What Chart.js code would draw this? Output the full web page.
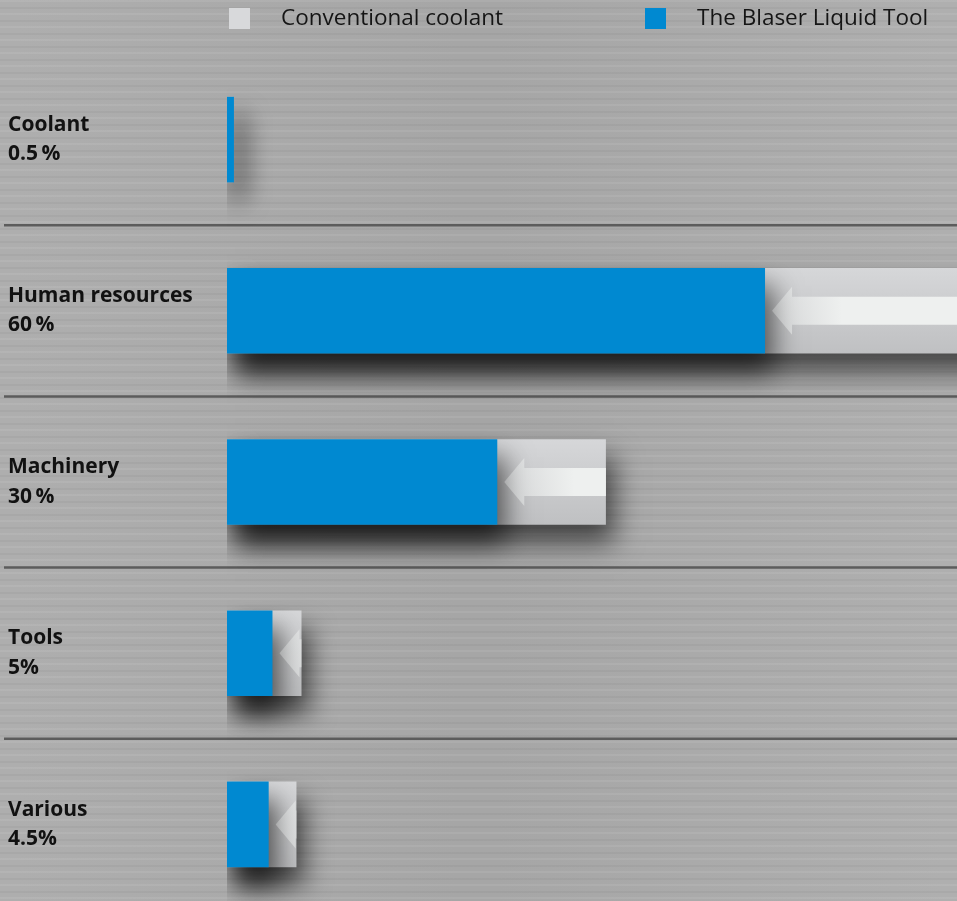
<!DOCTYPE html>
<html>
<head>
<meta charset="utf-8">
<script src="https://cdn.jsdelivr.net/npm/chart.js@4.4.1/dist/chart.umd.min.js"></script>
<style>
  html, body { margin: 0; padding: 0; overflow: hidden; }
  body {
    width: 957px; height: 901px;
    background-color: #ababab;
    background-image:
      repeating-linear-gradient(180deg, rgba(255,255,255,0.07) 0 2px, transparent 2px 7px, rgba(0,0,0,0.035) 7px 9px, transparent 9px 13px),
      linear-gradient(90deg, rgba(255,255,255,0.04), rgba(0,0,0,0.03), rgba(255,255,255,0.05));
  }
  canvas { display: block; }
</style>
</head>
<body>
<canvas id="costChart" width="957" height="912"></canvas>
<script>
// cost shares per category
var categories = ['Coolant', 'Human resources', 'Machinery', 'Tools', 'Various'];
var shares = ['0.5\u2009%', '60\u2009%', '30\u2009%', '5%', '4.5%'];
var seriesNames = ['Conventional coolant', 'The Blaser Liquid Tool'];
var conventional = [0.5, 60, 30, 5.9, 5.5];
var blaser = [0.55, 42.6, 21.4, 3.6, 3.3];
var xMax = 57.8;

var legendColors = ['#d8d9db', '#0089d1'];

// grey bars get a soft top-to-bottom shading
function greyFill(ctx) {
  var chart = ctx.chart;
  if (!chart.chartArea || ctx.dataIndex === undefined) return legendColors[0];
  var y = chart.scales.y.getPixelForValue(ctx.dataIndex);
  var g = chart.ctx.createLinearGradient(0, y - 43, 0, y + 43);
  g.addColorStop(0, '#d6d7d9');
  g.addColorStop(1, '#bfc0c2');
  return g;
}

var separatorPlugin = {
  id: 'separators',
  beforeDatasetsDraw: function (chart) {
    var y = chart.scales.y, c = chart.ctx;
    c.save();
    c.strokeStyle = '#5c5c5c';
    c.lineWidth = 2.5;
    for (var i = 0; i < categories.length - 1; i++) {
      var py = (y.getPixelForValue(i) + y.getPixelForValue(i + 1)) / 2;
      c.beginPath();
      c.moveTo(4, py);
      c.lineTo(chart.width, py);
      c.stroke();
    }
    c.restore();
  }
};

var shadowPlugin = {
  id: 'barShadow',
  beforeDatasetDraw: function (chart) {
    var c = chart.ctx;
    c.save();
    c.shadowColor = 'rgba(0,0,0,0.6)';
    c.shadowBlur = 26;
    c.shadowOffsetX = 8;
    c.shadowOffsetY = 18;
  },
  afterDatasetDraw: function (chart) {
    chart.ctx.restore();
  }
};

// white arrows pointing from the conventional bar end back to the blaser bar
var arrowPlugin = {
  id: 'arrows',
  afterDatasetsDraw: function (chart) {
    var c = chart.ctx, area = chart.chartArea;
    var greyBars = chart.getDatasetMeta(0).data;
    var blueBars = chart.getDatasetMeta(1).data;
    c.save();
    c.beginPath();
    c.rect(area.left, area.top, area.right - area.left, area.bottom - area.top);
    c.clip();
    greyBars.forEach(function (grey, i) {
      var blue = blueBars[i];
      if (grey.x - blue.x < 20) return;
      var tip = blue.x + 7, y = grey.y, headLen = 20, headH = 24, shaftH = 14;
      var g = c.createLinearGradient(tip, 0, tip + 70, 0);
      g.addColorStop(0, 'rgba(238,240,239,0.3)');
      g.addColorStop(1, 'rgba(238,240,239,1)');
      c.fillStyle = g;
      c.beginPath();
      c.moveTo(tip, y);
      c.lineTo(tip + headLen, y - headH);
      c.lineTo(tip + headLen, y - shaftH);
      c.lineTo(grey.x, y - shaftH);
      c.lineTo(grey.x, y + shaftH);
      c.lineTo(tip + headLen, y + shaftH);
      c.lineTo(tip + headLen, y + headH);
      c.closePath();
      c.fill();
    });
    c.restore();
  }
};

var legendPlugin = {
  id: 'topLegend',
  afterDraw: function (chart) {
    var c = chart.ctx;
    var spots = [229, 645];
    c.save();
    c.font = '22.5px "Open Sans"';
    c.textBaseline = 'middle';
    chart.data.datasets.forEach(function (ds, i) {
      c.fillStyle = legendColors[i];
      c.fillRect(spots[i], 8, 21, 21);
      c.fillStyle = '#151515';
      c.fillText(ds.label, spots[i] + 52, 19);
    });
    c.restore();
  }
};

var ctx = document.getElementById('costChart').getContext('2d');
var costChart = new Chart(ctx, {
  type: 'bar',
  data: {
    labels: categories.map(function (c, i) { return [c, shares[i]]; }),
    datasets: [
      {
        label: seriesNames[0],
        data: conventional,
        backgroundColor: greyFill,
        borderWidth: 0,
        order: 2
      },
      {
        label: seriesNames[1],
        data: blaser,
        backgroundColor: legendColors[1],
        borderWidth: 0,
        order: 1
      }
    ]
  },
  options: {
    indexAxis: 'y',
    responsive: false,
    animation: false,
    grouped: false,
    categoryPercentage: 0.5,
    barPercentage: 1,
    layout: { padding: { left: 8, top: 54, bottom: 2, right: 0 } },
    plugins: {
      legend: { display: false },
      tooltip: { enabled: false }
    },
    scales: {
      x: { display: false, min: 0, max: xMax },
      y: {
        grid: { display: false },
        border: { display: false },
        ticks: {
          crossAlign: 'far',
          color: '#111',
          font: { family: 'Open Sans', size: 21, weight: 'bold', lineHeight: 1.4 }
        },
        afterFit: function (scale) {
          scale.width = 219;
          scale.paddingTop = 0;
          scale.paddingBottom = 0;
        }
      }
    }
  },
  plugins: [separatorPlugin, shadowPlugin, arrowPlugin, legendPlugin]
});
</script>
</body>
</html>
